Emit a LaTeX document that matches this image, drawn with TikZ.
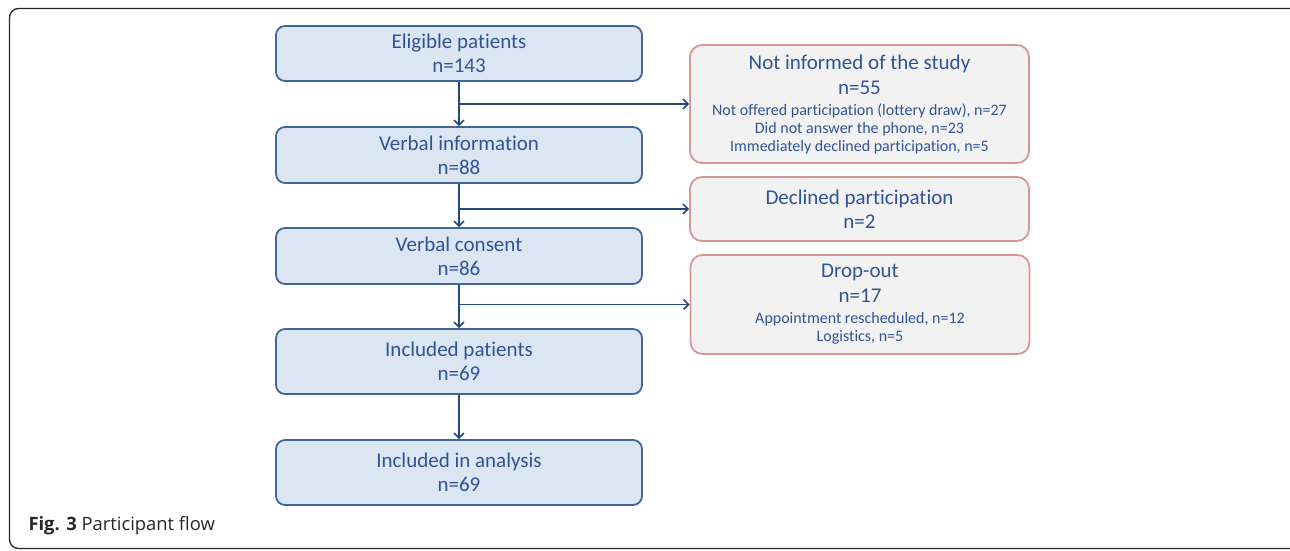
\documentclass[tikz,border=0pt]{standalone}
\usepackage{fontspec}
\setmainfont{Carlito}[Ligatures=NoCommon]
\newfontfamily\capfont{Open Sans}
\usetikzlibrary{arrows.meta}
\definecolor{bluefill}{HTML}{DCE6F2}
\definecolor{blueline}{HTML}{41679A}
\definecolor{bluetext}{HTML}{2F5496}
\definecolor{arrowblue}{HTML}{24487A}
\definecolor{redline}{HTML}{D99694}
\definecolor{grayfill}{HTML}{F2F2F2}
\tikzset{
  mainbox/.style={draw=blueline, fill=bluefill, line width=1.8pt, rounded corners=9pt,
    minimum width=366pt, inner sep=0pt, align=center, text=bluetext,
    font=\fontsize{21}{24}\selectfont},
  sidebox/.style={draw=redline, fill=grayfill, line width=1.8pt, rounded corners=12pt,
    minimum width=339pt, inner sep=0pt, align=center, text=bluetext,
    font=\fontsize{21}{24}\selectfont},
  flow/.style={draw=arrowblue, line width=1.6pt, -{Straight Barb[length=5pt,width=10pt,line width=1.5pt]}},
}
\newcommand{\sm}{\fontsize{16}{18}\selectfont}
\begin{document}
\begin{tikzpicture}[x=1pt,y=-1pt]
\useasboundingbox (0,0) rectangle (1290,550);
\draw[black!85, line width=1.3pt, rounded corners=9pt] (9.5,8.5) rectangle (1300,548.5);
\node[anchor=base west, font=\capfont\fontsize{18.4}{22}\selectfont, text=black!85] (cap) at (25,530) {\textbf{Fig. 3} Participant flow};

\node[mainbox, minimum height=55pt] (elig) at (459,53.5) {Eligible patients\\n=143};
\node[mainbox, minimum height=56pt] (vinfo) at (459,155) {Verbal information\\n=88};
\node[mainbox, minimum height=56pt] (vcons) at (459,256) {Verbal consent\\n=86};
\node[mainbox, minimum height=65pt] (incl) at (459,361.5) {Included patients\\n=69};
\node[mainbox, minimum height=65pt] (anal) at (459,472.5) {Included in analysis\\n=69};

\node[sidebox, minimum height=118pt] (notinf) at (859.5,104) {Not informed of the study\\[1pt]n=55\\[-3pt]
  {\sm Not offered participation (lottery draw), n=27}\\[-6pt]
  {\sm Did not answer the phone, n=23}\\[-6pt]
  {\sm Immediately declined participation, n=5}};
\node[sidebox, minimum height=64pt] (decl) at (859.5,209) {Declined participation\\n=2};
\node[sidebox, minimum height=99pt] (drop) at (860,304.5) {Drop-out\\[1pt]n=17\\[-3pt]
  {\sm Appointment rescheduled, n=12}\\[-6pt]
  {\sm Logistics, n=5}};

\draw[flow] (elig.south) -- (vinfo.north);
\draw[flow] (vinfo.south) -- (vcons.north);
\draw[flow] (vcons.south) -- (incl.north);
\draw[flow] (incl.south) -- (anal.north);
\draw[flow] (elig.south |- notinf.west) -- (notinf.west);
\draw[flow] (vinfo.south |- decl.west) -- (decl.west);
\draw[flow] (vcons.south |- drop.west) -- (drop.west);
\end{tikzpicture}
\end{document}
